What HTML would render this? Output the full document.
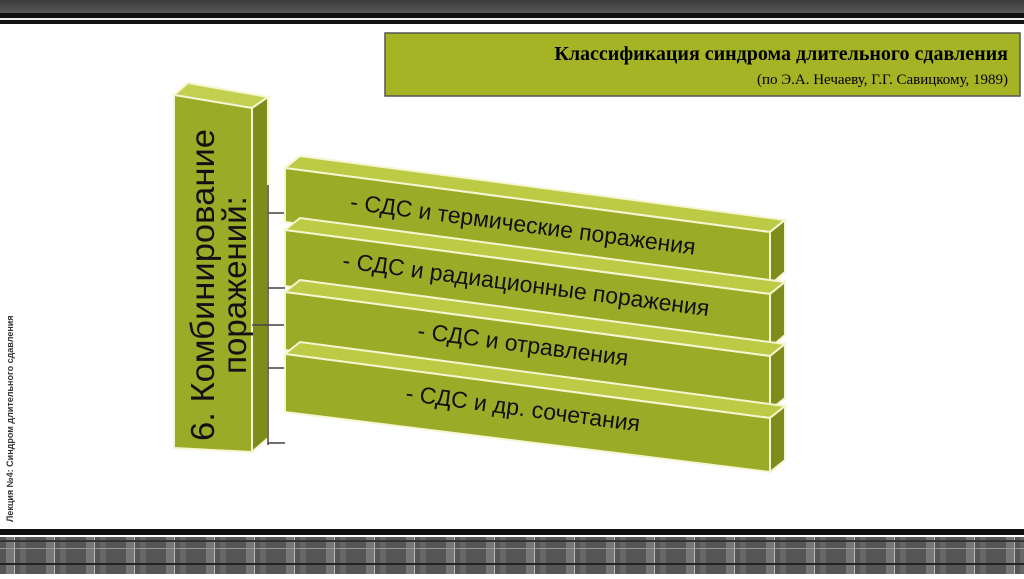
<!DOCTYPE html>
<html><head><meta charset="utf-8"><style>
body{margin:0;width:1024px;height:574px;overflow:hidden;background:#fff;font-family:"Liberation Sans",sans-serif}
</style></head><body>
<svg width="1024" height="574" xmlns="http://www.w3.org/2000/svg">
<defs>
<linearGradient id="tg" x1="0" y1="0" x2="0" y2="1"><stop offset="0" stop-color="#3a3a3a"/><stop offset="1" stop-color="#5a5a5a"/></linearGradient>
<pattern id="pt" width="40" height="37" patternUnits="userSpaceOnUse">
<rect width="40" height="37" fill="#555"/><rect x="6" width="8" height="37" fill="#777"/><rect x="20" width="6" height="37" fill="#666"/><rect x="14" width="1" height="37" fill="#bbb"/>
<rect y="8" width="40" height="2" fill="#222"/><rect y="22" width="40" height="2" fill="#333"/><rect y="30" width="40" height="1" fill="#999"/>
</pattern>
</defs>
<rect x="0" y="0" width="1024" height="13" fill="url(#tg)"/>
<rect x="0" y="13" width="1024" height="5" fill="#111"/>
<rect x="0" y="18" width="1024" height="2" fill="#eee"/>
<rect x="0" y="20" width="1024" height="4" fill="#111"/>
<rect x="0" y="529" width="1024" height="6" fill="#111"/>
<rect x="0" y="537" width="1024" height="37" fill="url(#pt)"/>

<rect x="385" y="33" width="635" height="63" fill="#a4b424" stroke="#555" stroke-width="1.5"/>
<text x="1008" y="60" text-anchor="end" font-family="Liberation Serif,serif" font-weight="bold" font-size="20">Классификация синдрома длительного сдавления</text>
<text x="1008" y="84" text-anchor="end" font-family="Liberation Serif,serif" font-size="15">(по Э.А. Нечаеву, Г.Г. Савицкому, 1989)</text>

<text transform="translate(13,522) rotate(-90)" font-size="9" font-weight="bold" fill="#333">Лекция №4: Синдром длительного сдавления</text>

<polygon points="174,95 188,83 268,97 252,108" fill="#c2d04f" stroke="#f5f5d0" stroke-width="2"/>
<polygon points="252,108 268,97 268,438 252,452" fill="#7e8c1c" stroke="#f5f5d0" stroke-width="2"/>
<polygon points="174,95 252,108 252,452 174,448" fill="#9aab28" stroke="#f5f5d0" stroke-width="2"/>
<text transform="translate(214,285) rotate(-90)" font-size="33" fill="#111" text-anchor="middle" textLength="312" lengthAdjust="spacingAndGlyphs">6. Комбинирование</text>
<text transform="translate(246,285) rotate(-90)" font-size="33" fill="#111" text-anchor="middle">поражений:</text>

<path d="M268,213 H285 M268,288 H285 M252,325 H285 M268,368 H285 M268,443 H285 M268,185 V445" stroke="#444" stroke-width="1.5" fill="none"/>

<g stroke="#f5f5d0" stroke-width="2">
<polygon points="285,168 300,156 785,220 770,232" fill="#bccb45"/>
<polygon points="770,232 785,220 785,272 770,285" fill="#7e8c1c"/>
<polygon points="285,168 770,232 770,285 285,222" fill="#9aab28"/>

<polygon points="285,230 300,218 785,282 770,294" fill="#bccb45"/>
<polygon points="770,294 785,282 785,335 770,348" fill="#7e8c1c"/>
<polygon points="285,230 770,294 770,348 285,286" fill="#9aab28"/>

<polygon points="285,292 300,280 785,344 770,356" fill="#bccb45"/>
<polygon points="770,356 785,344 785,398 770,410" fill="#7e8c1c"/>
<polygon points="285,292 770,356 770,410 285,350" fill="#9aab28"/>

<polygon points="285,354 300,342 785,406 770,418" fill="#bccb45"/>
<polygon points="770,418 785,406 785,460 770,472" fill="#7e8c1c"/>
<polygon points="285,354 770,418 770,472 285,412" fill="#9aab28"/>
</g>
<g font-size="23" fill="#111" text-anchor="middle">
<text transform="translate(522,232) rotate(7.5)">- СДС и термические поражения</text>
<text transform="translate(525,292) rotate(7.5)">- СДС и радиационные поражения</text>
<text transform="translate(522,352) rotate(7.5)">- СДС и отравления</text>
<text transform="translate(522,416) rotate(7.5)">- СДС и др. сочетания</text>
</g>
</svg>
</body></html>
